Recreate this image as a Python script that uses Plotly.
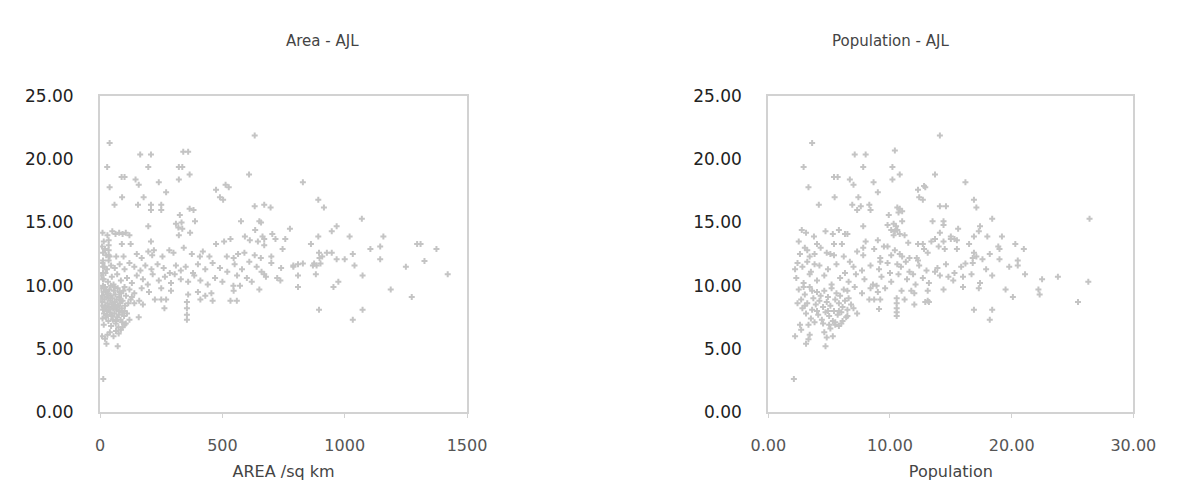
import plotly.graph_objects as go

# ---- Area vs AJL ----
area_km2 = [
    39, 164, 208, 340, 360, 29, 197, 322, 336, 88, 100, 145, 158, 240, 322, 366, 39, 90, 178, 270,
    59, 155, 208, 208, 250, 250, 474, 513, 526, 490, 503, 632, 609, 632, 671, 366, 382, 326, 388, 576,
    651, 197, 310, 320, 333, 336, 829, 892, 915, 697, 658, 1070, 776, 967,
    10, 30, 50, 63, 78, 92, 105, 120, 368, 322, 634, 704, 664, 892, 1020, 1158, 947,
    208, 89, 125, 474, 507, 533, 592, 612, 645, 671, 717, 757, 671, 862, 1296, 1310, 1145, 342, 15, 20, 8,
    35, 35, 35, 35, 35,
    283, 197, 220, 213, 375, 408, 447, 518, 546, 564, 632, 39, 66, 96, 746, 1375, 1105, 895, 897, 908,
    927, 947, 967, 1000, 1033, 1145, 1326, 657, 12, 25, 150, 170, 255, 300, 420, 590, 700,
    1250, 790, 829, 875, 901, 790, 809, 870, 885, 10, 18, 28, 45, 60, 80, 100, 120, 140, 165, 185,
    210, 235, 260, 285, 310, 330, 350, 380, 400, 430, 460, 490, 520, 550, 580, 610, 640, 660, 700, 740, 1040,
    671, 678, 724, 737, 809, 882, 974, 1073, 1421, 5, 15, 22, 32, 48, 55, 70, 85, 110, 130, 150,
    175, 195, 215, 240, 265, 290, 305, 330, 360, 385, 410, 440, 470, 500, 545, 572, 600, 620, 560,
    651, 809, 954, 1188, 1274, 546, 400, 430, 455, 360, 290, 250, 200, 170, 140, 120, 100,
    224, 250, 270, 263, 355, 355, 355, 355, 533, 559, 895, 1073, 1033, 140, 160, 175, 410, 460, 158,
    5, 8, 10, 12, 14, 16, 18, 20, 22, 24, 26, 28, 30, 32, 34, 36, 38, 40, 42, 44,
    46, 48, 50, 52, 54, 56, 58, 60, 62, 64, 66, 68, 70, 72, 74, 76, 78, 80, 82, 84,
    86, 88, 90, 92, 95, 98, 102, 106, 110, 115, 10, 15, 20, 25, 30, 35, 40, 45, 50, 55,
    60, 65, 70, 75, 80, 85, 90, 100, 105, 120, 125, 130, 6, 3, 12, 28, 44, 62,
    13, 26, 72, 20, 30, 40, 76, 85, 92, 100, 8, 55, 65,
    12, 12, 12, 12,
]
ajl_by_area = [
    21.3, 20.4, 20.4, 20.6, 20.6, 19.4, 19.4, 19.4, 19.4, 18.6, 18.6, 18.4, 18.0, 18.2, 18.4, 18.8, 17.8, 17.0, 17.0, 17.4,
    16.4, 16.4, 16.4, 16.0, 16.4, 16.0, 17.6, 18.0, 17.8, 17.0, 16.8, 21.9, 18.8, 16.3, 16.4, 16.1, 16.0, 15.6, 15.1, 15.1,
    15.1, 14.7, 14.9, 14.6, 15.0, 14.5, 18.2, 16.8, 16.2, 16.2, 15.0, 15.3, 14.5, 14.7,
    14.2, 14.0, 14.3, 14.1, 14.2, 14.1, 14.2, 14.0, 14.2, 14.0, 14.4, 14.1, 13.9, 13.9, 13.9, 13.9, 14.3,
    13.5, 13.3, 13.3, 13.3, 13.5, 13.7, 13.9, 13.6, 13.5, 13.7, 13.7, 13.7, 13.2, 13.3, 13.3, 13.3, 13.1, 13.0, 13.5, 12.9, 13.1,
    13.6, 13.2, 12.8, 12.4, 12.0,
    12.8, 12.7, 12.8, 12.4, 12.5, 12.3, 12.3, 12.3, 12.2, 12.5, 12.4, 12.3, 12.3, 12.3, 12.9, 12.9, 12.9, 12.6, 12.2, 12.3,
    12.6, 12.6, 12.1, 12.1, 12.5, 12.1, 11.95, 12.2, 12.6, 12.4, 12.5, 12.2, 12.3, 12.6, 12.7, 12.6, 12.3,
    11.5, 11.5, 11.75, 11.75, 11.75, 11.6, 11.7, 11.6, 11.6, 11.8, 11.5, 11.3, 11.6, 11.4, 11.7, 11.3, 11.8, 11.5, 11.2, 11.6,
    11.3, 11.7, 11.4, 11.0, 11.6, 11.2, 11.5, 11.0, 11.7, 11.3, 11.8, 11.4, 11.1, 11.7, 11.3, 11.9, 11.5, 11.1, 11.8, 11.4, 11.6,
    10.9, 10.7, 10.6, 10.4, 10.8, 10.9, 10.3, 10.8, 10.9, 10.8, 10.5, 11.0, 10.3, 10.7, 10.1, 10.9, 10.4, 10.6, 10.2, 10.8,
    10.5, 10.1, 10.9, 10.4, 10.7, 10.2, 10.9, 10.5, 10.3, 10.8, 10.4, 10.1, 10.6, 10.3, 10.0, 10.0, 10.6, 10.3, 10.8,
    9.7, 9.9, 9.9, 9.7, 9.1, 9.6, 9.5, 9.2, 9.4, 9.3, 9.6, 9.8, 9.5, 9.8, 9.4, 9.7, 9.9,
    8.9, 8.9, 8.9, 8.2, 8.7, 8.2, 7.7, 7.3, 8.8, 8.8, 8.1, 8.1, 7.3, 8.6, 8.8, 8.5, 8.9, 8.8, 7.5,
    9.8, 9.2, 8.7, 8.1, 9.5, 7.8, 8.9, 9.9, 8.4, 7.5, 9.1, 8.0, 8.6, 9.4, 7.2, 8.3, 9.7, 7.9, 8.8, 9.2,
    7.6, 8.5, 9.0, 7.3, 8.2, 9.6, 7.8, 8.7, 9.3, 7.0, 8.1, 8.9, 7.5, 9.8, 8.4, 7.7, 9.1, 8.0, 8.6, 7.3,
    9.4, 8.2, 7.9, 8.8, 9.6, 7.6, 8.4, 9.2, 7.8, 8.6, 7.4, 6.9, 8.3, 9.6, 7.7, 9.0, 8.1, 6.8, 7.6, 8.4,
    9.9, 7.2, 8.3, 6.7, 9.5, 8.8, 7.1, 8.0, 7.0, 7.3, 8.9, 9.1, 8.4, 9.0, 10.0, 9.3, 10.0, 8.5,
    2.6, 5.4, 5.2, 5.8, 6.1, 6.3, 6.2, 6.5, 6.7, 6.9, 6.0, 6.0, 6.4,
    12.0, 11.5, 11.0, 10.5,
]

# ---- Population vs AJL ----
population = [
    3.6, 7.1, 8.0, 10.4, 2.9, 7.8, 10.2, 5.4, 5.7, 6.7, 7.0, 8.65, 10.8, 10.2, 3.3, 9.0, 5.45, 7.4, 4.15, 6.9,
    7.3, 7.6, 8.3, 8.4, 9.9, 10.6, 10.7, 7.8, 9.8, 10.1, 10.4, 10.5, 11.0, 14.1, 13.7, 16.2, 12.3, 12.8, 12.9, 12.4,
    12.7, 16.9, 17.1, 14.1, 14.6, 10.8, 11.0, 18.4, 26.4, 13.5, 14.4, 14.4, 15.6, 17.4, 17.3,
    2.75, 3.1, 3.75, 4.7, 5.3, 5.8, 6.3, 6.5, 5.4, 6.05, 8.0, 14.1, 15.0, 15.3, 16.9, 18.0, 19.2, 20.3, 21.0, 18.9,
    19.0, 16.5, 15.5, 12.3, 12.7, 12.8, 13.1, 13.4, 13.7, 14.0, 14.4, 14.5, 15.0, 15.5, 10.3, 10.6, 10.8, 11.2, 10.3, 2.5,
    3.0, 4.0, 9.0, 9.5, 11.5,
    2.6, 3.2, 3.4, 3.8, 4.3, 4.8, 5.1, 5.4, 7.3, 7.8, 7.8, 8.7, 9.8, 10.1, 10.8, 10.4, 11.0, 11.6, 12.2, 12.3,
    16.9, 17.1, 16.8, 17.6, 18.2, 19.0, 20.5, 6.2, 9.2,
    19.8, 15.85, 16.2, 16.8, 2.4, 3.2, 3.8, 6.7, 9.2, 9.8, 10.6, 2.2, 2.8, 3.5, 4.2, 4.9, 5.6, 6.3, 7.0, 7.7,
    8.4, 9.1, 10.0, 10.9, 11.6, 12.4, 13.0, 13.9, 14.6, 15.3, 17.9, 20.5, 11.3,
    26.3, 23.8, 22.5, 21.1, 18.4, 17.4, 16.0, 16.7, 15.2, 14.8, 13.2, 13.7, 14.1, 2.3, 2.9, 3.4, 4.0, 4.6, 5.2, 5.9,
    6.6, 7.2, 7.9, 8.6, 9.3, 10.1, 10.7, 11.4, 12.1, 12.7, 11.9, 8.9,
    22.2, 22.3, 20.1, 19.5, 17.3, 16.0, 14.4, 13.1, 11.75, 10.95, 12.0, 9.6, 9.0, 8.4, 7.7, 7.1, 6.5,
    25.45, 18.4, 16.9, 18.2, 13.1, 12.9, 13.2, 11.2, 12.0, 10.55, 10.55, 10.55, 10.55, 10.55, 8.3, 8.7, 9.1, 9.2,
    2.5, 2.7, 2.8, 3.0, 3.1, 3.2, 3.4, 3.5, 3.6, 3.7, 3.8, 3.9, 4.0, 4.1, 4.2, 4.3, 4.4, 4.5, 4.6, 4.7,
    4.8, 4.9, 5.0, 5.1, 5.2, 5.3, 5.4, 5.5, 5.6, 5.7, 5.8, 5.9, 6.0, 6.1, 6.2, 6.3, 6.4, 6.5, 6.6, 6.8,
    7.0, 7.3, 4.5, 5.0, 5.5, 3.3, 2.6, 4.0, 4.9, 5.8, 3.0, 6.0, 3.6, 2.4, 2.9,
    2.1, 2.2, 3.1, 3.3, 3.4, 4.7, 4.6, 4.8, 5.1, 5.3, 5.5, 5.8, 6.1, 6.5, 2.7,
]
ajl_by_population = [
    21.3, 20.4, 20.4, 20.7, 19.4, 19.4, 19.4, 18.6, 18.6, 18.4, 18.0, 18.2, 18.8, 18.4, 17.8, 17.4, 17.0, 17.0, 16.4, 16.4,
    16.0, 16.3, 16.4, 16.0, 15.6, 16.2, 15.8, 14.7, 14.8, 14.4, 14.3, 14.7, 15.1, 21.9, 18.8, 18.2, 17.6, 17.9, 17.8, 17.0,
    16.8, 16.8, 16.2, 16.3, 16.3, 16.1, 15.9, 15.3, 15.3, 15.1, 15.1, 14.8, 14.5, 14.7, 14.3,
    14.4, 14.2, 13.9, 14.3, 14.1, 14.4, 14.1, 14.1, 13.3, 13.3, 13.5, 14.2, 13.9, 13.7, 13.9, 13.9, 13.9, 13.3, 12.9, 13.1,
    12.9, 13.3, 12.9, 13.3, 13.3, 12.9, 12.6, 13.5, 13.7, 13.1, 13.5, 12.9, 13.7, 13.6, 14.9, 14.4, 14.1, 14.0, 14.0, 13.5,
    13.0, 13.3, 13.6, 13.1, 13.4,
    12.5, 12.8, 12.3, 12.5, 13.0, 12.6, 12.5, 12.4, 12.7, 13.0, 12.4, 12.9, 13.1, 12.4, 12.5, 12.8, 12.3, 12.2, 12.2, 12.0,
    12.6, 12.3, 12.2, 12.1, 12.5, 12.1, 12.0, 12.3, 12.2,
    11.5, 11.5, 11.75, 11.8, 11.8, 11.9, 11.7, 11.9, 11.9, 11.8, 11.7, 11.3, 11.5, 11.1, 11.6, 11.3, 11.7, 11.0, 11.5, 11.2,
    11.6, 11.3, 11.0, 11.5, 11.1, 11.6, 11.2, 11.4, 11.7, 11.0, 11.3, 11.6, 11.9,
    10.3, 10.7, 10.5, 10.9, 10.8, 10.2, 10.7, 10.9, 10.4, 10.7, 10.2, 11.1, 10.8, 10.6, 10.2, 10.9, 10.4, 10.8, 10.1, 10.6,
    10.3, 10.9, 10.5, 10.1, 10.7, 10.3, 10.9, 10.5, 10.1, 10.6, 10.9, 10.0,
    9.7, 9.3, 9.1, 9.7, 9.8, 9.9, 9.7, 9.6, 9.6, 9.6, 9.4, 9.8, 9.5, 9.8, 9.4, 9.9, 9.6,
    8.7, 8.1, 8.1, 7.3, 8.8, 8.7, 8.7, 8.9, 8.5, 9.0, 8.6, 8.2, 7.9, 7.6, 8.9, 8.9, 8.15, 8.9,
    9.7, 8.9, 8.2, 9.3, 7.8, 8.6, 9.9, 7.4, 8.1, 9.0, 7.1, 8.5, 9.5, 7.7, 8.8, 9.2, 7.3, 8.3, 9.6, 7.9,
    8.7, 9.1, 7.6, 8.4, 9.8, 7.2, 8.0, 8.9, 9.4, 7.7, 8.6, 9.2, 7.9, 8.3, 9.7, 8.8, 7.5, 8.1, 9.0, 8.5,
    8.2, 7.8, 7.0, 6.9, 7.1, 6.9, 6.9, 8.0, 8.0, 8.0, 8.4, 7.0, 9.6, 8.6, 9.9,
    2.6, 6.0, 5.4, 5.75, 6.1, 5.2, 6.3, 5.9, 6.6, 6.0, 6.9, 6.8, 7.2, 7.6, 6.5,
]

area_ticks = [0, 500, 1000, 1500]
area_tick_text = ["0", "500", "1000", "1500"]
pop_ticks = [0, 10, 20, 30]
pop_tick_text = ["0.00", "10.00", "20.00", "30.00"]
ajl_ticks = [0, 5, 10, 15, 20, 25]

W, H = 1194, 489
POINT = "#c4c4c4"
FRAME = "#d2d2d2"
FONT = "DejaVu Sans"

fig = go.Figure()
marker = dict(symbol="cross", size=5, color=POINT, line=dict(width=0))
fig.add_trace(go.Scatter(x=area_km2, y=ajl_by_area, mode="markers", marker=marker,
                         xaxis="x", yaxis="y", showlegend=False, hoverinfo="skip"))
fig.add_trace(go.Scatter(x=population, y=ajl_by_population, mode="markers", marker=marker,
                         xaxis="x2", yaxis="y2", showlegend=False, hoverinfo="skip"))


def px_x(p):
    return p / W


def px_y(p):
    return 1 - p / H


def x_axis(dom, rng, vals, text, title, anchor):
    return dict(domain=dom, range=rng, tickvals=vals, ticktext=text, anchor=anchor,
                showline=True, linecolor=FRAME, linewidth=2, mirror=True,
                showgrid=False, zeroline=False, ticks="outside", ticklen=4,
                tickcolor=FRAME, tickwidth=1, ticklabelstandoff=14,
                tickfont=dict(family=FONT, size=16, color="#555555"),
                title=dict(text=title, standoff=12,
                           font=dict(family=FONT, size=16, color="#444444")))


def y_axis(anchor):
    return dict(domain=[px_y(419), px_y(90)], range=[0, 25], tickvals=ajl_ticks,
                tickformat=".2f", anchor=anchor,
                showline=True, linecolor=FRAME, linewidth=2, mirror=True,
                showgrid=False, zeroline=False, ticks="", ticklabelstandoff=21,
                tickfont=dict(family=FONT, size=17, color="#222222"))


fig.update_layout(
    width=W, height=H,
    margin=dict(l=0, r=0, t=0, b=0),
    paper_bgcolor="white", plot_bgcolor="white",
    xaxis=x_axis([px_x(85), px_x(465)], [0, 1500], area_ticks, area_tick_text, "AREA /sq km", "y"),
    yaxis=y_axis("x"),
    xaxis2=x_axis([px_x(777), px_x(1155)], [0, 30], pop_ticks, pop_tick_text, "Population", "y2"),
    yaxis2=y_axis("x2"),
    annotations=[
        dict(text="Area - AJL", x=px_x(275), y=px_y(21), xref="paper", yref="paper",
             showarrow=False, font=dict(family=FONT, size=15, color="#444444")),
        dict(text="Population - AJL", x=px_x(966), y=px_y(21), xref="paper", yref="paper",
             showarrow=False, font=dict(family=FONT, size=15, color="#444444")),
    ],
)

fig.write_html("out.html")
